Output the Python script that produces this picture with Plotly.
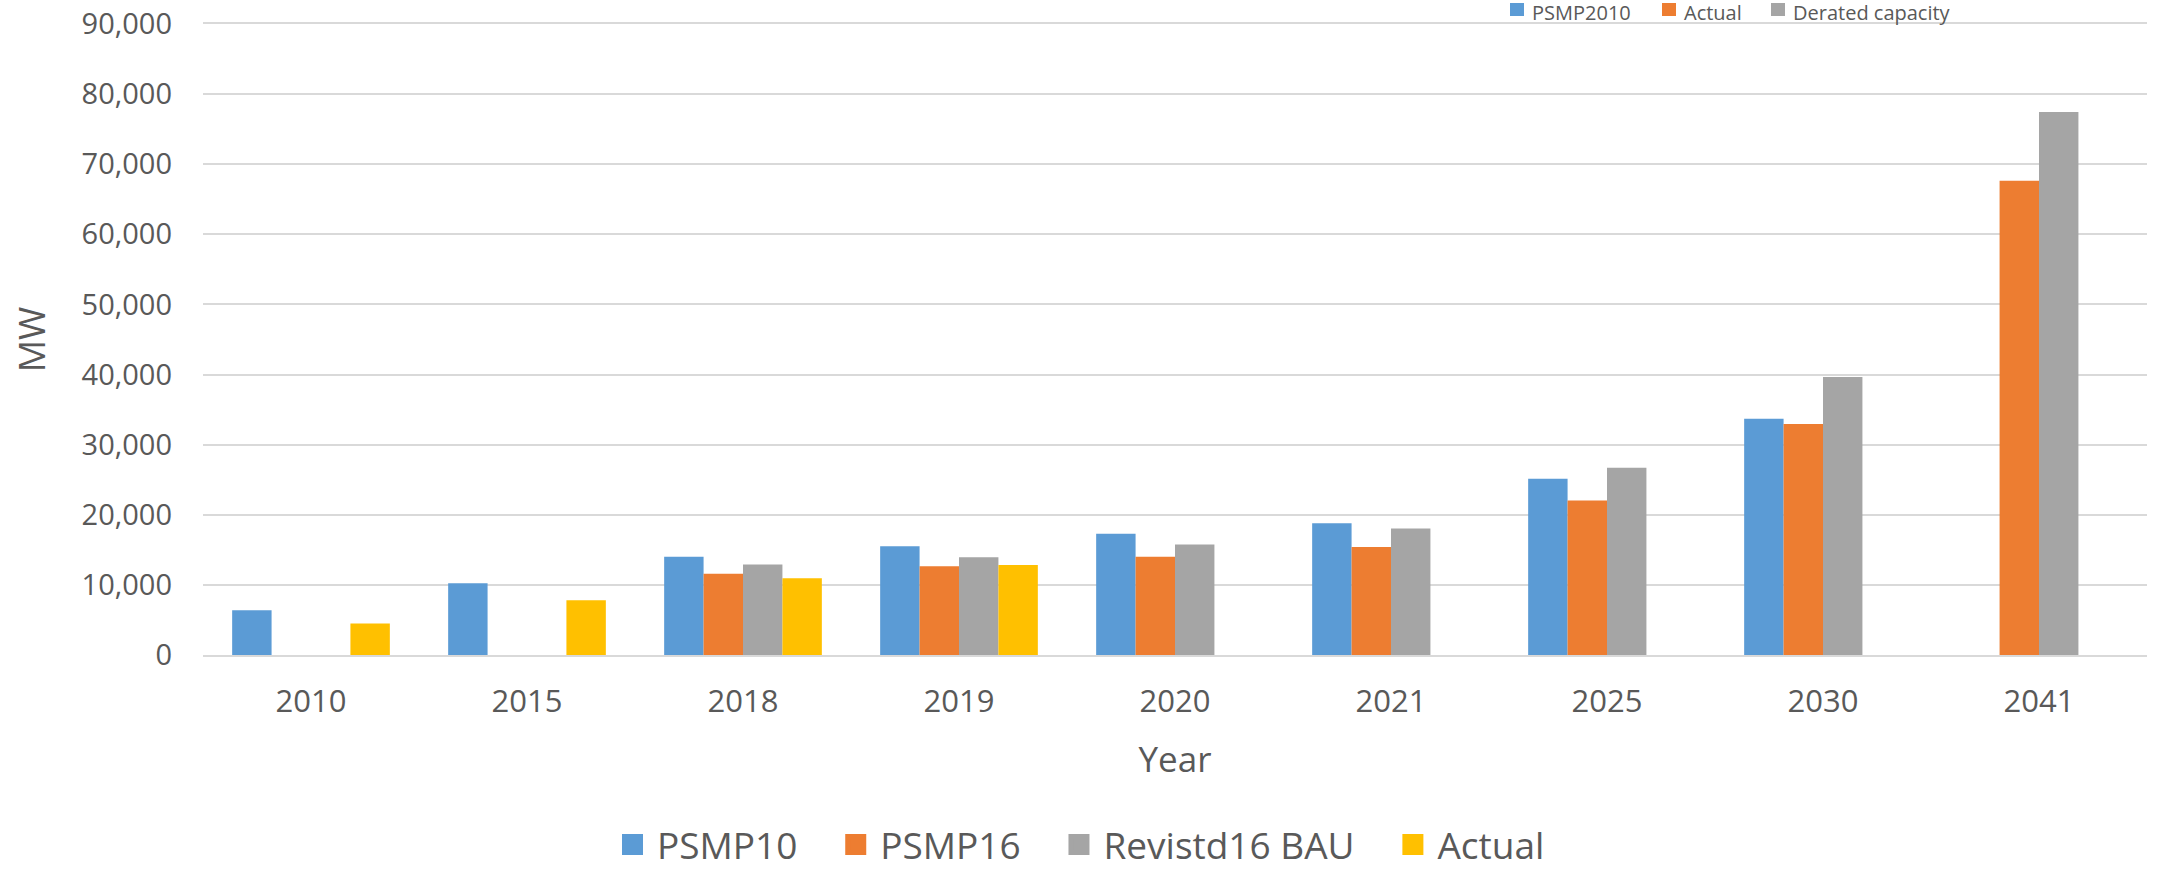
import plotly.graph_objects as go

years = ["2010", "2015", "2018", "2019", "2020", "2021", "2025", "2030", "2041"]
psmp10 = [6400, 10250, 14000, 15500, 17300, 18800, 25150, 33700, None]
psmp16 = [None, None, 11600, 12650, 14000, 15400, 22050, 32950, 67650]
revised16_bau = [None, None, 12900, 13950, 15750, 18050, 26700, 39650, 77450]
actual = [4500, 7800, 10950, 12850, None, None, None, None, None]

series_names = ["PSMP10", "PSMP16", "Revistd16 BAU", "Actual"]
series_values = [psmp10, psmp16, revised16_bau, actual]
colors = ["#5B9BD5", "#ED7D31", "#A5A5A5", "#FFC000"]

top_legend_labels = ["PSMP2010", "Actual", "Derated capacity"]
top_legend_colors = ["#5B9BD5", "#ED7D31", "#A5A5A5"]

y_ticks = list(range(0, 90001, 10000))

W_PX, H_PX = 2162, 869
L, R, T, B = 203, 15, 24, 214
PW = W_PX - L - R
PH = H_PX - T - B
TXT = "#595959"
GRID = "#D9D9D9"
FONT = "Open Sans, Noto Sans, sans-serif"


def px2x(px):
    return (px - L) / PW


def py2y(py):
    return (T + PH - py) / PH


fig = go.Figure()
for name, vals, col in zip(series_names, series_values, colors):
    fig.add_trace(go.Bar(x=years, y=vals, name=name, marker=dict(color=col, line=dict(width=0)),
                         showlegend=False))
# legend entries (larger square symbols); trailing no-break spaces widen item spacing
pads = ["\u00a0\u00a0\u00a0", "\u00a0\u00a0\u00a0", "\u00a0\u00a0\u00a0", ""]
for name, col, pad in zip(series_names, colors, pads):
    fig.add_trace(go.Scatter(x=[None], y=[None], mode="markers", name=name + pad,
                             marker=dict(symbol="square", size=16, color=col,
                                         line=dict(color=col, width=5)),
                             showlegend=True, hoverinfo="skip"))

shapes = []
annotations = []
sq_left = [1510, 1662, 1771]
txt_left = [1530, 1682, 1791]
for lbl, col, sx, tx in zip(top_legend_labels, top_legend_colors, sq_left, txt_left):
    shapes.append(dict(type="rect", xref="paper", yref="paper",
                       x0=px2x(sx), x1=px2x(sx + 14), y0=py2y(16), y1=py2y(3),
                       fillcolor=col, line=dict(width=0)))
    annotations.append(dict(text=lbl, xref="paper", yref="paper", x=px2x(tx), y=py2y(12),
                            xanchor="left", yanchor="middle", showarrow=False,
                            font=dict(size=20, color=TXT, family=FONT)))

fig.update_layout(
    width=W_PX, height=H_PX,
    margin=dict(l=L, r=R, t=T, b=B, autoexpand=False),
    paper_bgcolor="white", plot_bgcolor="white",
    barmode="group", bargap=0.27, bargroupgap=0,
    font=dict(family=FONT, color=TXT),
    shapes=shapes, annotations=annotations,
    legend=dict(orientation="h", x=px2x(1079), xanchor="center", y=py2y(845), yanchor="middle",
                font=dict(size=37, color=TXT, family=FONT), itemwidth=39,
                bgcolor="rgba(0,0,0,0)"),
)
fig.update_xaxes(
    type="category", showline=True, mirror=True, linecolor=GRID, linewidth=2,
    ticks="", ticklabelstandoff=18,
    tickfont=dict(size=31, color=TXT, family=FONT),
    title=dict(text="Year", font=dict(size=35, color=TXT, family=FONT), standoff=27),
    automargin=False,
)
fig.update_yaxes(
    range=[0, 90000], tickvals=y_ticks, tickformat=",",
    showgrid=True, gridcolor=GRID, gridwidth=2,
    zeroline=False, showline=False, ticks="", ticklabelstandoff=30,
    ticklabeloverflow="allow",
    tickfont=dict(size=29, color=TXT, family=FONT),
    title=dict(text="MW", font=dict(size=36, color=TXT, family=FONT), standoff=24),
    automargin=False,
)

fig.write_html("out.html", config={"displayModeBar": False},
               post_script="document.body.style.margin='0';")
